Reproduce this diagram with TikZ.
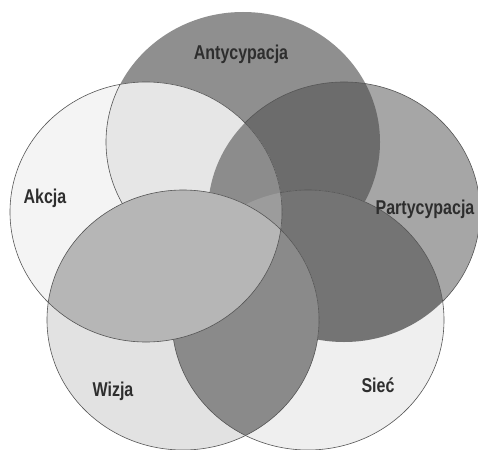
\documentclass[tikz,border=0pt]{standalone}
\usepackage{fontspec}
\newfontfamily\labfont[FakeStretch=0.8]{Liberation Sans}
\definecolor{cA}{HTML}{8F8F8F}
\definecolor{cP}{HTML}{A6A6A6}
\definecolor{cAP}{HTML}{6C6C6C}
\definecolor{cS}{HTML}{EFEFEF}
\definecolor{cPS}{HTML}{747474}
\definecolor{cK}{HTML}{F4F4F4}
\definecolor{cKA}{HTML}{E6E6E6}
\definecolor{cKAP}{HTML}{8C8C8C}
\definecolor{cKS}{HTML}{9C9C9C}
\definecolor{cW}{HTML}{E2E2E2}
\definecolor{cWS}{HTML}{8A8A8A}
\definecolor{cKW}{HTML}{B6B6B6}
\definecolor{cLine}{HTML}{555555}
\definecolor{cText}{HTML}{2E2E2E}
\def\shpA{(cA) ellipse [x radius=137, y radius=130]}
\def\shpP{(cP) ellipse [x radius=136, y radius=130]}
\def\shpS{(cS) ellipse [x radius=136, y radius=130]}
\def\shpW{(cW) ellipse [x radius=136, y radius=130]}
\def\shpK{(cK) ellipse [x radius=136, y radius=130]}
\begin{document}
\begin{tikzpicture}[x=1pt,y=-1pt,
  outl/.style={draw=cLine,line width=0.6pt},
  lab/.style={font=\labfont\bfseries\fontsize{20}{22}\selectfont,text=cText,anchor=base,inner sep=0pt}]
\fill[white] (0,0) rectangle (478,449);
\useasboundingbox (0,0) rectangle (478,449);
\coordinate (cA) at (243,142);
\coordinate (cP) at (344,212);
\coordinate (cS) at (308,320);
\coordinate (cW) at (183,320);
\coordinate (cK) at (146,212);
% Antycypacja and Partycypacja
\fill[cA] \shpA;
\fill[cP] \shpP;
\begin{scope}\clip \shpA; \fill[cAP] \shpP; \end{scope}
\draw[outl] \shpP;
% Siec
\fill[cS] \shpS;
\begin{scope}\clip \shpS; \fill[cPS] \shpP; \end{scope}
\draw[outl] \shpS;
% Akcja
\fill[cK] \shpK;
\begin{scope}\clip \shpK; \fill[cKA] \shpA; \end{scope}
\begin{scope}\clip \shpK; \clip \shpA; \fill[cKAP] \shpP; \end{scope}
\begin{scope}\clip \shpK; \fill[cKS] \shpS; \end{scope}
\begin{scope}\clip \shpK; \draw[outl] \shpA; \end{scope}
% Wizja
\fill[cW] \shpW;
\begin{scope}\clip \shpW; \fill[cWS] \shpS; \end{scope}
\begin{scope}\clip \shpW; \draw[outl] \shpS; \end{scope}
% top lens Akcja/Wizja
\begin{scope}\clip \shpW; \fill[cKW] \shpK; \end{scope}
\draw[outl] \shpW;
\draw[outl] \shpK;
% labels
\node[lab] (lA) at (241,60) {Antycypacja};
\node[lab] (lK) at (45,203) {Akcja};
\node[lab] (lP) at (425,214) {Partycypacja};
\node[lab] (lW) at (113,396) {Wizja};
\node[lab] (lS) at (378,392) {Sieć};
\end{tikzpicture}
\end{document}
